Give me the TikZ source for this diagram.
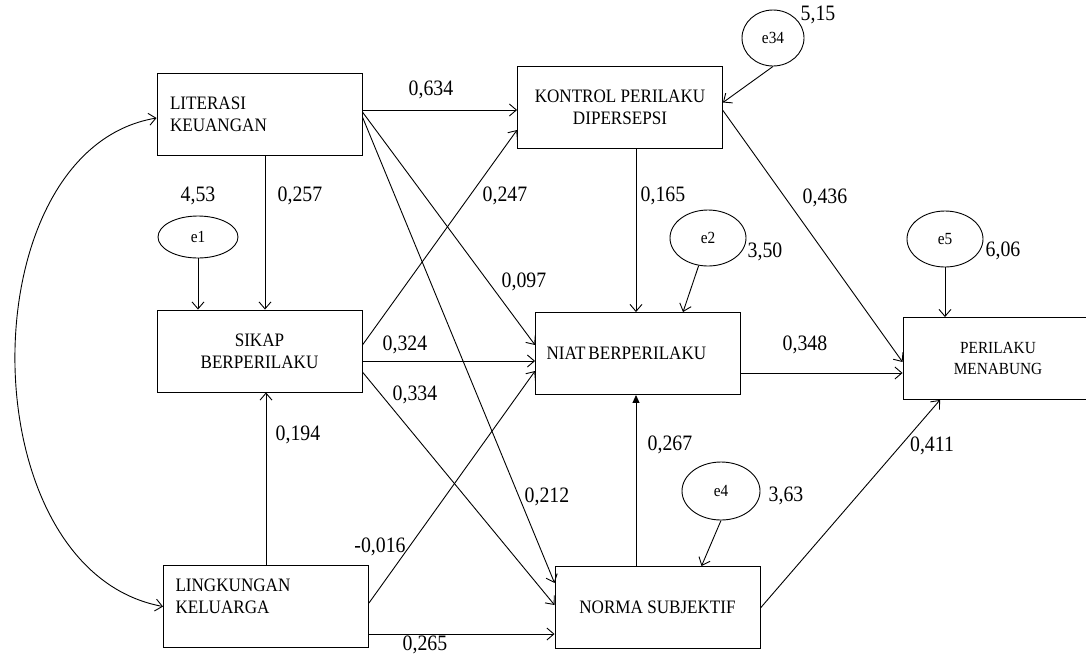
\documentclass[tikz,border=0pt]{standalone}
\usepackage{fontspec}
\setmainfont{Liberation Serif}
\newfontfamily\condserif[FakeStretch=0.9]{Liberation Serif}
\usetikzlibrary{arrows.meta,shapes.geometric}
\begin{document}
\begin{tikzpicture}[x=1pt,y=-1pt,line width=0.9pt,
  box/.style={draw, rectangle, minimum width=205pt, minimum height=82pt, inner sep=0pt,
    font=\condserif\fontsize{19}{22}\selectfont, align=center},
  err/.style={draw, ellipse, inner sep=0pt, font=\condserif\fontsize{17}{18}\selectfont},
  num/.style={inner sep=0pt, font=\condserif\fontsize{22}{24}\selectfont},
  arr/.style={-{Straight Barb[length=7pt,width=12pt]}},
  dbl/.style={{Straight Barb[length=7pt,width=12pt]}-{Straight Barb[length=7pt,width=12pt]}},
  farr/.style={-{Triangle[length=8pt,width=7pt]}},
]
\useasboundingbox (0,0) rectangle (1086,657);

% boxes
\node[box, text width=179pt, align=left] (lit) at (259.5,114) {LITERASI\\KEUANGAN};
\node[box] (kon) at (620,107.5) {KONTROL PERILAKU\\DIPERSEPSI};
\node[box] (sik) at (259.5,351) {SIKAP\\BERPERILAKU};
\node[box, text width=183pt, align=left] (niat) at (638,353.5) {{\spaceskip=3pt NIAT BERPERILAKU}};
\node[box, minimum width=190pt, font=\condserif\fontsize{17}{21}\selectfont] (pm) at (998,358.5) {PERILAKU\\MENABUNG};
\node[box, text width=181pt, align=left] (ling) at (266,606.5) {LINGKUNGAN\\KELUARGA\\[-2pt]\mbox{}};
\node[box] (norma) at (657.5,607.5) {NORMA SUBJEKTIF};

% error terms
\node[err, minimum width=80pt, minimum height=42pt] (e1) at (198,237) {e1};
\node[err, minimum width=76pt, minimum height=56pt] (e2) at (708,238) {e2};
\node[err, minimum width=62pt, minimum height=56pt] (e34) at (773,38) {e34};
\node[err, minimum width=78pt, minimum height=58pt] (e4) at (721,491) {e4};
\node[err, minimum width=76pt, minimum height=56pt] (e5) at (945,239) {e5};

% connectors
\draw[arr] ([yshift=4pt]lit.east) -- ([yshift=-2.5pt]kon.west);
\draw[arr] ([yshift=2pt]lit.east) -- ([yshift=8.5pt]niat.west);
\draw[arr] ([yshift=-3pt]lit.east) -- ([yshift=24.5pt]norma.west);
\draw[arr] ([yshift=6pt]sik.east) -- ([yshift=-22.5pt]kon.west);
\draw[arr] ([yshift=-10pt]sik.east) -- ([yshift=-7.5pt]niat.west);
\draw[arr] ([yshift=-21pt]sik.east) -- ([yshift=2.5pt]norma.west);
\draw[arr] ([yshift=3.5pt]ling.east) -- ([yshift=-17.5pt]niat.west);
\draw[arr] ([yshift=-27.5pt]ling.east) -- ([yshift=-26.5pt]norma.west);
\draw[arr] ([xshift=5.5pt]lit.south) -- ([xshift=5.5pt]sik.north);
\draw[arr] (e1.south) -- (e1.south |- sik.north);
\draw[arr] (ling.north) -- (ling.north |- sik.south);
\draw[arr] ([xshift=16pt]kon.south) -- ([xshift=-2pt]niat.north);
\draw[arr] (e2) -- ([xshift=45pt]niat.north);
\draw[arr] (e34.south) -- ([yshift=5pt]kon.east);
\draw[arr] ([yshift=-3pt]kon.east) -- ([yshift=-3.5pt]pm.west);
\draw[arr] ([yshift=-19.5pt]niat.east) -- ([yshift=-14.5pt]pm.west);
\draw[farr] ([xshift=-21.5pt]norma.north) -- ([xshift=-2pt]niat.south);
\draw[arr] (e4.south) -- ([xshift=44pt]norma.north);
\draw[arr] ([yshift=-0.5pt]norma.east) -- ([xshift=-58pt]pm.south);
\draw[arr] (e5.south) -- (e5.south |- pm.north);
\draw[dbl] ([yshift=-4pt]lit.west) .. controls (-33,150) and (-33,570) .. (ling.west);

% labels
\node[num] (v515) at (818,15) {5,15};
\node[num] (v453) at (198,196) {4,53};
\node[num] (v350) at (765,252) {3,50};
\node[num] (v606) at (1003,251) {6,06};
\node[num] (v363) at (786,496) {3,63};
\node[num] (p634) at (431,90) {0,634};
\node[num] (p257) at (300,196) {0,257};
\node[num] (p247) at (505,196) {0,247};
\node[num] (p165) at (663,196) {0,165};
\node[num] (p436) at (825,198) {0,436};
\node[num] (p097) at (524,282) {0,097};
\node[num] (p324) at (405,345) {0,324};
\node[num] (p334) at (415,395) {0,334};
\node[num] (p348) at (805,345) {0,348};
\node[num] (p194) at (298,435) {0,194};
\node[num] (p267) at (670,445) {0,267};
\node[num] (p411) at (932,446) {0,411};
\node[num] (p212) at (547,497) {0,212};
\node[num] (p016) at (380,547) {-0,016};
\node[num] (p265) at (425,645) {0,265};
\end{tikzpicture}
\end{document}
